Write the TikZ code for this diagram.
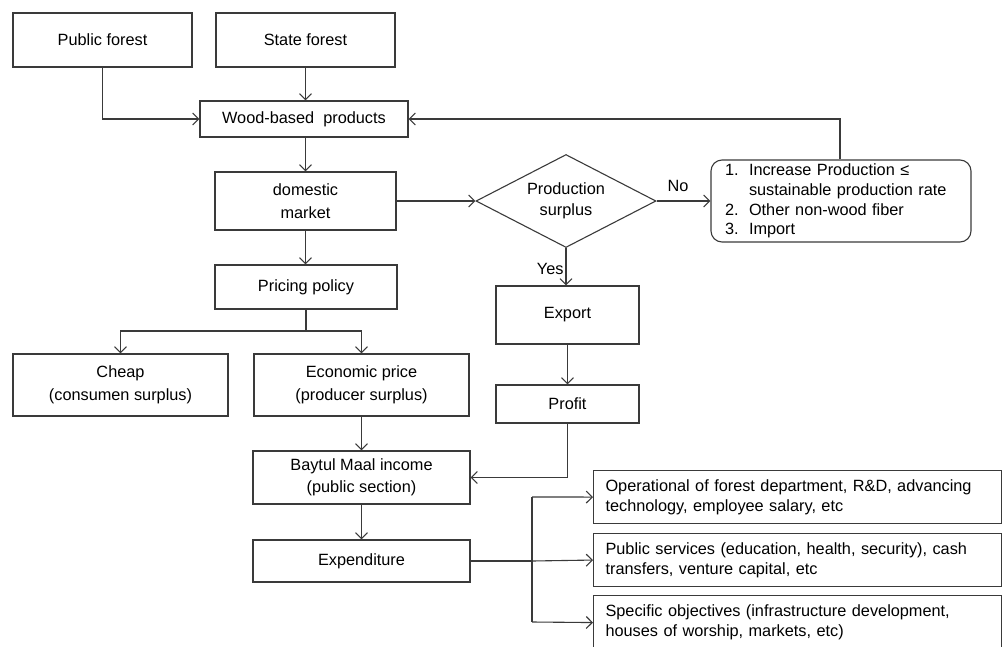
\documentclass[tikz,border=0pt]{standalone}
\usepackage{fontspec}
\setmainfont{Liberation Sans}
\usetikzlibrary{arrows.meta,shapes.geometric}
\definecolor{ln}{HTML}{3A3A3A}
\begin{document}
\begin{tikzpicture}[x=1pt,y=-1pt,
  every node/.style={font=\fontsize{16.3}{23}\selectfont, text=black},
  box/.style={draw=ln, line width=1.1pt, rectangle, inner sep=0pt, align=center},
  lbox/.style={draw=ln, line width=1.1pt, rectangle, inner xsep=12pt, inner ysep=0pt, text width=384pt,
     align=left, anchor=north west, font=\fontsize{16.3}{20}\selectfont},
  conn/.style={draw=ln, line width=1.1pt, -{Straight Barb[length=6pt,width=12pt,line width=1.1pt]}},
  line/.style={draw=ln, line width=1.1pt},
  lbl/.style={font=\fontsize{16.3}{18}\selectfont, inner sep=0pt}
]
\useasboundingbox (0,0) rectangle (1002,646);
\clip (0,0) rectangle (1002,646);

\node[box, minimum width=179pt, minimum height=54pt] (pub) at (102.5,40) {Public forest};
\node[box, minimum width=179pt, minimum height=54pt] (state) at (305.5,40) {State forest};
\node[box, minimum width=208pt, minimum height=36pt] (wbp) at (304,119) {Wood-based\ \ products};
\node[box, minimum width=181pt, minimum height=58pt] (dom) at (305.5,201) {domestic\\market};
\node[draw=ln, line width=1.1pt, diamond, shape aspect=1.94, inner sep=0pt,
      minimum width=180pt, minimum height=93pt, align=center,
      font=\fontsize{16.3}{21}\selectfont] (ps) at (566,201) {Production\\surplus};
\node[draw=ln, line width=1.1pt, rounded corners=11pt, rectangle, minimum width=260pt, minimum height=82pt,
      text width=232pt, inner xsep=14pt, inner ysep=0pt, align=left,
      font=\fontsize{16.3}{19.7}\selectfont] (opt) at (841,201)
  {\makebox[24pt][l]{1.}Increase Production ≤\\
   \hspace*{24pt}sustainable production rate\\
   \makebox[24pt][l]{2.}Other non-wood fiber\\
   \makebox[24pt][l]{3.}Import};
\node[box, minimum width=182pt, minimum height=44pt] (price) at (306,287) {Pricing policy};
\node[box, minimum width=215pt, minimum height=62pt] (cheap) at (120.5,385) {Cheap\\(consumen surplus)};
\node[box, minimum width=215pt, minimum height=62pt] (econ) at (361.5,385) {Economic price\\(producer surplus)};
\node[box, minimum width=143pt, minimum height=58pt] (exp) at (567.5,315) {Export};
\node[box, minimum width=143pt, minimum height=38pt] (profit) at (567.5,404) {Profit};
\node[box, minimum width=217pt, minimum height=53pt, font=\fontsize{16.3}{22}\selectfont] (bmi) at (361.5,477.5) {Baytul Maal income\\(public section)};
\node[box, minimum width=217pt, minimum height=42pt] (expd) at (361.5,561) {Expenditure};

\node[lbox, minimum height=53pt] (o1) at (593,470)
  {Operational of forest department, R\&D, advancing\\technology, employee salary, etc};
\node[lbox, minimum height=53pt] (o2) at (593,533)
  {Public services (education, health, security), cash\\transfers, venture capital, etc};
\node[lbox, minimum height=54pt] (o3) at (593,595)
  {Specific objectives (infrastructure development,\\houses of worship, markets, etc)};

% connectors
\draw[conn] (pub.south) |- (wbp.west);
\draw[conn] (state.south) -- (state.south |- wbp.north);
\draw[conn] (wbp.south -| dom.north) -- (dom.north);
\draw[conn] (dom.east) -- (ps.west);
\draw[conn] (ps.east) -- node[lbl, above=9pt, pos=0.4] {No} (opt.west);
\coordinate (fb) at (840,119);
\draw[conn] (opt.north -| fb) -- (fb) -- (wbp.east);
\draw[conn] (ps.south) -- node[lbl, left=2pt, pos=0.55] {Yes} (ps.south |- exp.north);
\draw[conn] (exp.south) -- (profit.north);
\draw[conn] (profit.south) |- (bmi.east);
\draw[conn] (dom.south) -- (dom.south |- price.north);
\coordinate (split) at (306,331);
\draw[line] (price.south) -- (split);
\draw[conn] (split) -| (cheap.north);
\draw[conn] (split) -| (econ.north);
\draw[conn] (econ.south) -- (econ.south |- bmi.north);
\draw[conn] (bmi.south) -- (expd.north);
\coordinate (br) at (532,561);
\draw[line] (expd.east) -- (br);
\draw[line] (532,497) -- (532,622);
\draw[conn] (532,497) -- (o1.west);
\draw[conn] (br) -- (o2.west);
\draw[conn] (532,622) -- (o3.west);
\end{tikzpicture}
\end{document}
